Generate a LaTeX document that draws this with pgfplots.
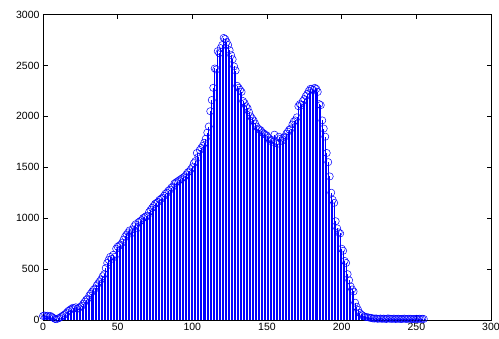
\documentclass[border=0pt]{standalone}
\usepackage{pgfplots}
\pgfplotsset{compat=1.18}
\usepackage{pgfplotstable}
\usepackage{fontspec}
\setmainfont{Liberation Sans}
\definecolor{mblue}{RGB}{0,0,255}
\pgfplotstableread{
x y
0 40
1 45
2 40
3 42
4 35
5 40
6 30
7 20
8 10
9 8
10 15
11 20
12 30
13 40
14 50
15 60
16 75
17 90
18 100
19 110
20 120
21 115
22 125
23 110
24 120
25 130
26 140
27 160
28 180
29 200
30 210
31 240
32 260
33 280
34 300
35 310
36 340
37 360
38 380
39 400
40 430
41 450
42 510
43 560
44 590
45 620
46 600
47 640
48 620
49 700
50 720
51 730
52 740
53 760
54 790
55 820
56 840
57 860
58 880
59 850
60 890
61 920
62 940
63 900
64 960
65 970
66 980
67 1000
68 1010
69 1020
70 1020
71 1060
72 1080
73 1100
74 1120
75 1140
76 1150
77 1160
78 1180
79 1190
80 1200
81 1220
82 1240
83 1250
84 1270
85 1280
86 1300
87 1310
88 1340
89 1350
90 1360
91 1370
92 1380
93 1390
94 1400
95 1410
96 1430
97 1450
98 1460
99 1480
100 1500
101 1540
102 1560
103 1640
104 1600
105 1670
106 1690
107 1710
108 1740
109 1780
110 1840
111 1900
112 2050
113 2160
114 2280
115 2470
116 2460
117 2640
118 2620
119 2670
120 2700
121 2770
122 2760
123 2730
124 2700
125 2650
126 2600
127 2560
128 2490
129 2450
130 2300
131 2280
132 2260
133 2240
134 2150
135 2130
136 2100
137 2080
138 2040
139 2000
140 1980
141 1960
142 1930
143 1900
144 1880
145 1870
146 1860
147 1840
148 1830
149 1820
150 1810
151 1790
152 1760
153 1770
154 1750
155 1820
156 1750
157 1730
158 1800
159 1780
160 1760
161 1790
162 1800
163 1830
164 1850
165 1870
166 1880
167 1920
168 1950
169 1960
170 1990
171 2100
172 2120
173 2110
174 2150
175 2170
176 2200
177 2220
178 2250
179 2270
180 2270
181 2260
182 2280
183 2270
184 2240
185 2120
186 2110
187 1960
188 1880
189 1800
190 1640
191 1550
192 1410
193 1250
194 1180
195 1150
196 970
197 900
198 860
199 850
200 700
201 680
202 580
203 560
204 450
205 390
206 330
207 300
208 280
209 170
210 130
211 100
212 70
213 55
214 45
215 35
216 30
217 28
218 25
219 22
220 20
221 15
222 14
223 16
224 12
225 13
226 15
227 11
228 14
229 12
230 10
231 16
232 13
233 12
234 11
235 14
236 10
237 12
238 13
239 11
240 9
241 12
242 14
243 10
244 11
245 13
246 12
247 10
248 9
249 11
250 12
251 10
252 13
253 11
254 12
255 10
}\histdata
\begin{document}
\begin{tikzpicture}
\begin{axis}[
  at={(0,0)}, anchor=south west,
  scale only axis, width=448pt, height=305.5pt,
  xmin=0, xmax=300, ymin=0, ymax=3000,
  xtick={0,50,...,300}, ytick={0,500,...,3000},
  tick align=inside, xtick pos=both, ytick pos=both,
  major tick length=4.5pt,
  tick style={black, line width=0.5pt},
  axis line style={black, line width=0.8pt},
  /pgf/number format/assume math mode=true,
  /pgf/number format/1000 sep={},
  ticklabel style={font=\fontsize{10.5}{11}\selectfont},
  xticklabel style={yshift=0pt},
  yticklabel style={xshift=0pt},
  clip=false,
]
\addplot[ycomb, mblue, line width=0.55pt, mark=o, mark size=3.6pt, mark options={mblue, line width=0.5pt}] table[x=x,y=y] {\histdata};
\end{axis}
\pgfresetboundingbox
\useasboundingbox (-43pt,-19pt) rectangle (456pt,320pt);
\end{tikzpicture}
\end{document}
